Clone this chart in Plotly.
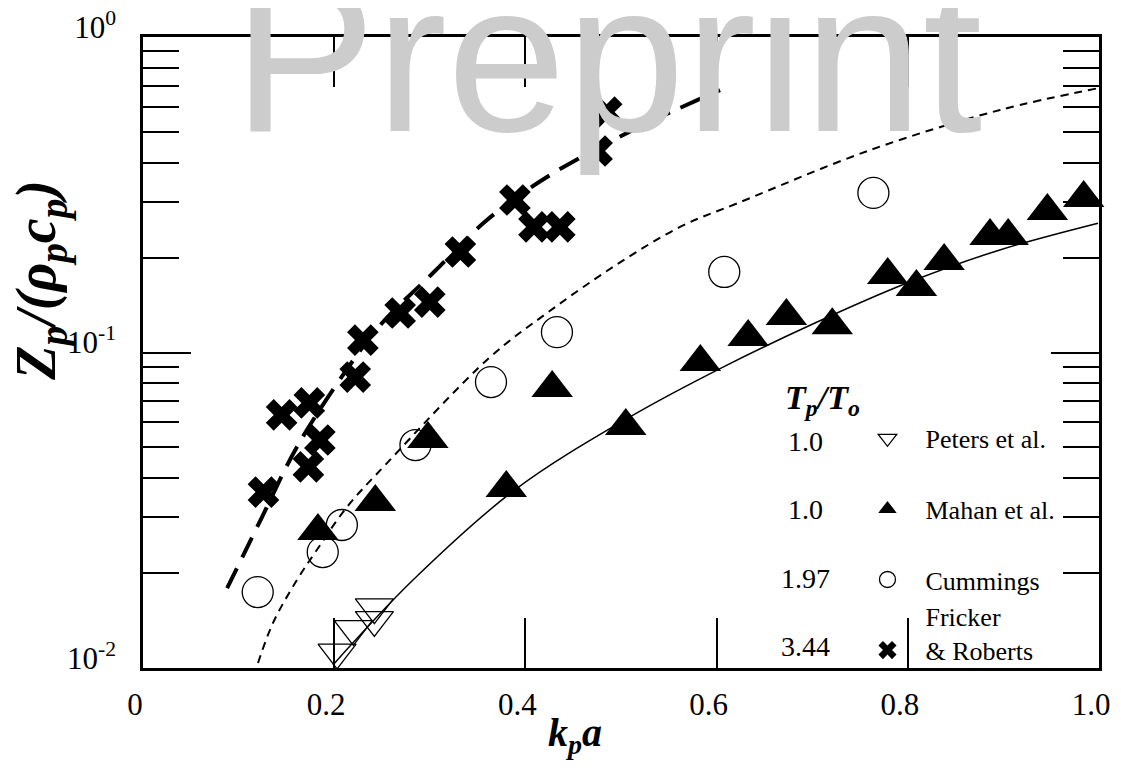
import plotly.graph_objects as go

# ---------------- data ----------------
peters_x = [0.203, 0.220, 0.242, 0.242]
peters_y = [0.0112, 0.0133, 0.0142, 0.0156]

mahan_x = [0.183, 0.243, 0.298, 0.380, 0.428, 0.505, 0.583, 0.633, 0.673, 0.721,
           0.779, 0.809, 0.838, 0.886, 0.905, 0.946, 0.984]
mahan_y = [0.0272, 0.0336, 0.0532, 0.0372, 0.0772, 0.0585, 0.0933, 0.112, 0.1305, 0.122,
           0.176, 0.1613, 0.195, 0.234, 0.234, 0.281, 0.309]

cummings_x = [0.120, 0.188, 0.208, 0.285, 0.364, 0.433, 0.608, 0.764]
cummings_y = [0.0174, 0.0233, 0.0284, 0.0509, 0.0806, 0.116, 0.180, 0.3205]

fricker_x = [0.126, 0.145, 0.173, 0.174, 0.185, 0.222, 0.230, 0.269, 0.300, 0.332,
             0.389, 0.409, 0.436, 0.475, 0.485]
fricker_y = [0.0361, 0.0634, 0.0434, 0.0692, 0.0528, 0.0836, 0.1095, 0.1334, 0.1445, 0.2082,
             0.3043, 0.250, 0.250, 0.4352, 0.578]

# theory curves
curve_fr_x = [0.088, 0.1245, 0.161, 0.2113, 0.248, 0.3033, 0.3598, 0.4226, 0.5126, 0.6036]
curve_fr_y = [0.0179, 0.0301, 0.0502, 0.0867, 0.122, 0.1786, 0.263, 0.360, 0.507, 0.679]

curve_cu_x = [0.1203, 0.136, 0.161, 0.182, 0.2134, 0.2552, 0.363, 0.4226, 0.4916, 0.5617,
              0.6224, 0.7605, 0.8964, 1.0]
curve_cu_y = [0.01037, 0.0139, 0.0190, 0.0237, 0.0324, 0.0446, 0.0967, 0.1334, 0.1866, 0.250,
              0.2977, 0.438, 0.587, 0.689]

curve_ma_x = [0.1987, 0.2824, 0.389, 0.5094, 0.6067, 0.7029, 0.7992, 0.8954, 0.999]
curve_ma_y = [0.01023, 0.0190, 0.0367, 0.0625, 0.0899, 0.124, 0.166, 0.211, 0.257]

x_ticks = [0, 0.2, 0.4, 0.6, 0.8, 1.0]
x_ticktext = ["0", "0.2", "0.4", "0.6", "0.8", "1.0"]
y_ticks = [0.01, 0.1, 1]
y_ticktext = ["10<sup>-2</sup>", "10<sup>-1</sup>", "10<sup>0</sup>"]
y_minor = [d * 10 ** e for e in (-2, -1) for d in range(2, 10)]

legend_names = ["Peters et al.", "Mahan et al.", "Cummings", "Fricker<br>& Roberts"]
legend_ratios = ["1.0", "1.0", "1.97", "3.44"]

SERIF = "Liberation Serif, Times New Roman, serif"

fig = go.Figure()

# curves
fig.add_trace(go.Scatter(x=curve_fr_x, y=curve_fr_y, mode="lines", line_shape="spline",
                         line=dict(color="black", width=4, dash="22px,12px"),
                         showlegend=False, hoverinfo="skip"))
fig.add_trace(go.Scatter(x=curve_cu_x, y=curve_cu_y, mode="lines", line_shape="spline",
                         line=dict(color="black", width=2, dash="8px,6px"),
                         showlegend=False, hoverinfo="skip"))
fig.add_trace(go.Scatter(x=curve_ma_x, y=curve_ma_y, mode="lines", line_shape="spline",
                         line=dict(color="black", width=1.5),
                         showlegend=False, hoverinfo="skip"))

# data points (legend text: blank first line so each entry is two lines tall)
fig.add_trace(go.Scatter(x=peters_x, y=peters_y, mode="markers",
                         name="\u00a0<br>" + legend_names[0], cliponaxis=False,
                         marker=dict(symbol="triangle-down-open", size=33, color="black",
                                     line=dict(width=1.3, color="black"))))
fig.add_trace(go.Scatter(x=mahan_x, y=mahan_y, mode="markers",
                         name="\u00a0<br>" + legend_names[1], cliponaxis=False,
                         marker=dict(symbol="triangle-up", size=36, color="black")))
fig.add_trace(go.Scatter(x=cummings_x, y=cummings_y, mode="markers",
                         name="\u00a0<br>" + legend_names[2], cliponaxis=False,
                         marker=dict(symbol="circle-open", size=31, color="black",
                                     line=dict(width=1.3, color="black"))))
fig.add_trace(go.Scatter(x=fricker_x, y=fricker_y, mode="markers", name=legend_names[3],
                         cliponaxis=False,
                         marker=dict(symbol="x", size=28, color="black",
                                     line=dict(width=0))))

fig.update_xaxes(range=[0, 1.0], tickmode="array", tickvals=x_ticks, ticktext=x_ticktext,
                 ticks="inside", ticklen=50, tickwidth=2, tickcolor="black",
                 showline=True, linewidth=2.5, linecolor="black", mirror="ticks",
                 showgrid=False, zeroline=False, automargin=False,
                 ticklabeloverflow="allow",
                 tickfont=dict(family=SERIF, size=31, color="black"),
                 ticklabelstandoff=7, ticklabelshift=-8)
fig.update_yaxes(type="log", range=[-2, 0], tickmode="array", tickvals=y_ticks,
                 ticktext=y_ticktext,
                 ticks="inside", ticklen=48, tickwidth=2, tickcolor="black",
                 minor=dict(tickmode="array", tickvals=y_minor, ticks="inside", ticklen=36,
                            tickwidth=2, tickcolor="black", showgrid=False),
                 showline=True, linewidth=2.5, linecolor="black", mirror="ticks",
                 showgrid=False, zeroline=False, automargin=False,
                 ticklabeloverflow="allow",
                 tickfont=dict(family=SERIF, size=31, color="black"),
                 ticklabelstandoff=18, ticklabelshift=-10)

annotations = [
    dict(text="Preprint", xref="paper", yref="paper", x=0.092, y=0.7765,
         xanchor="left", yanchor="bottom", showarrow=False,
         font=dict(family="Liberation Sans, Arial, sans-serif", size=214, color="#cccccc")),
    # axis titles
    dict(text="<b><i>k<sub>p</sub>a</i></b>", xref="paper", yref="paper",
         x=0.452, y=-0.106, xanchor="center", yanchor="middle", showarrow=False,
         font=dict(family=SERIF, size=40, color="black")),
    dict(text="<b><i>Z<sub>p</sub>/(ρ<sub>p</sub>c<sub>p</sub>)</i></b>", xref="paper",
         yref="paper", x=-0.107, y=0.615, xanchor="center", yanchor="middle",
         textangle=-90, showarrow=False,
         font=dict(family=SERIF, size=56, color="black")),
    # legend heading
    dict(text="<b><i>T<sub>p</sub>/T<sub>o</sub></i></b>", xref="paper", yref="paper",
         x=0.711, y=0.4247, xanchor="center", yanchor="middle", showarrow=False,
         font=dict(family=SERIF, size=34, color="black")),
]
ratio_y = [0.3597, 0.2504, 0.1426, 0.0333]
for txt, yy in zip(legend_ratios, ratio_y):
    annotations.append(dict(text=txt, xref="paper", yref="paper", x=0.6925, y=yy,
                            xanchor="center", yanchor="middle", showarrow=False,
                            font=dict(family=SERIF, size=28, color="black")))

# the page body adds an 8 px margin, so the figure is sized to fit inside the window
fig.update_layout(
    width=1113, height=762,
    margin=dict(l=135, r=22, t=29, b=102),
    paper_bgcolor="white", plot_bgcolor="white",
    font=dict(family=SERIF, color="black"),
    showlegend=True,
    legend=dict(x=0.739, y=0.4547, xanchor="left", yanchor="top",
                bgcolor="rgba(0,0,0,0)", borderwidth=0, valign="bottom",
                font=dict(family=SERIF, size=26, color="black"),
                tracegroupgap=0, itemwidth=66, itemsizing="trace"),
    annotations=annotations,
)

fig.write_html("out.html")
